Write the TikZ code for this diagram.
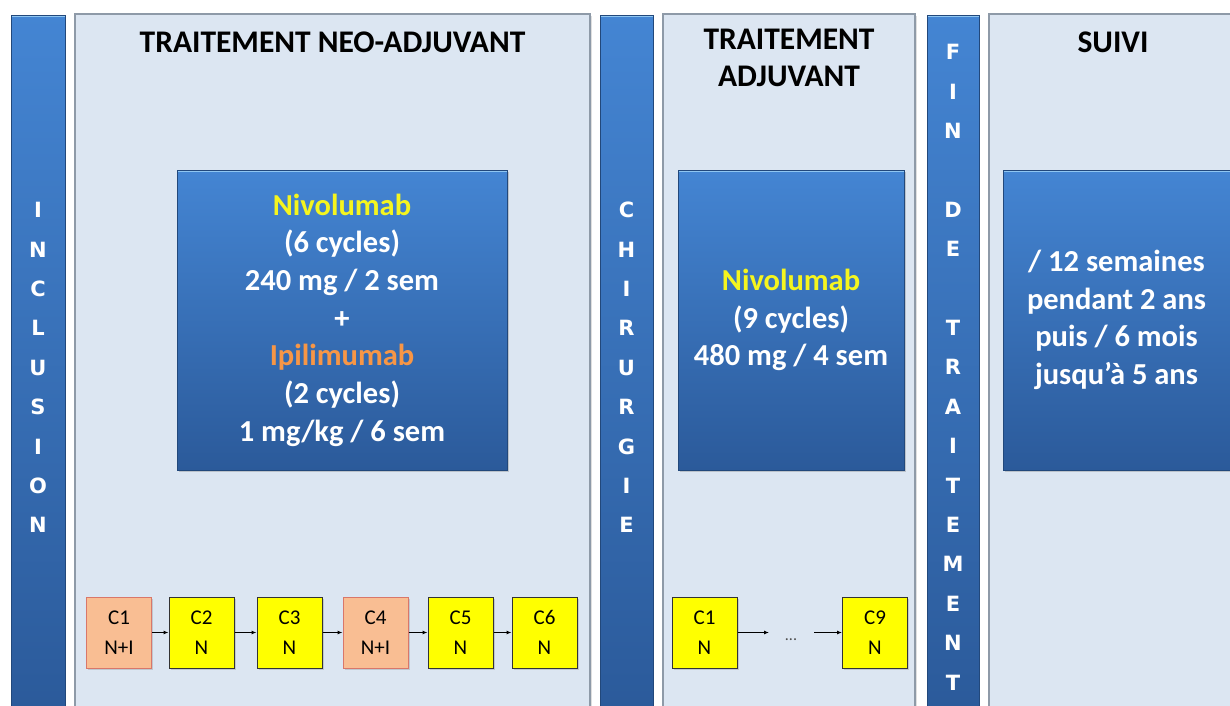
\documentclass[tikz,border=0pt]{standalone}
\usepackage{fontspec}
\setmainfont{Carlito}
\newfontfamily\barfont{DejaVu Sans}
\usetikzlibrary{arrows.meta,shadows}
\definecolor{panelfill}{HTML}{DCE6F2}
\definecolor{panelborder}{HTML}{8E9AA8}
\definecolor{bluetop}{HTML}{4485D3}
\definecolor{bluebot}{HTML}{2B5A9A}
\definecolor{blueedge}{HTML}{8FC6F2}
\definecolor{nivo}{HTML}{F5F51E}
\definecolor{ipi}{HTML}{F79646}
\definecolor{salmon}{HTML}{F9BE93}
\definecolor{salmonedge}{HTML}{D9776A}
\definecolor{yel}{HTML}{FFFF00}
\tikzset{
  panel/.style={draw=panelborder, line width=1.2pt, fill=panelfill,
    drop shadow={opacity=0.25, shadow xshift=1.5pt, shadow yshift=-1.5pt}},
  bluefill/.style={top color=bluetop, bottom color=bluebot, draw=bluebot!80!black, line width=0.6pt,
    path picture={\draw[blueedge, line width=3pt]
      (path picture bounding box.north west) -- (path picture bounding box.north east);}},
  bluebox/.style={bluefill, text=white, align=center,
    font=\bfseries\fontsize{30.5}{37.7}\selectfont,
    drop shadow={opacity=0.35, shadow xshift=2pt, shadow yshift=-2pt}},
  bar/.style={bluefill, minimum height=700pt},
  barletter/.style={text=white, font=\barfont\bfseries\fontsize{21}{21}\selectfont, inner sep=0pt},
  title/.style={font=\bfseries\fontsize{31.5}{37}\selectfont, align=center, text=black},
  cyc/.style={minimum width=65pt, minimum height=71pt, align=center, inner sep=0pt,
    font=\fontsize{21}{30}\selectfont, line width=1pt,
    drop shadow={opacity=0.3, shadow xshift=1.5pt, shadow yshift=-1.5pt}},
  cycNI/.style={cyc, fill=salmon, draw=salmonedge},
  cycN/.style={cyc, fill=yel, draw=black!80},
  arr/.style={-{Latex[length=5pt,width=4pt]}, line width=1pt, black}
}
\begin{document}
\begin{tikzpicture}[x=1pt,y=-1pt]
\useasboundingbox (0,0) rectangle (1230,705);
\clip (0,0) rectangle (1230,705);
\fill[white] (0,0) rectangle (1230,705);

% vertical bars
\node[bar, minimum width=54pt] (inclusion) at (38,365) {};
\node[bar, minimum width=53pt] (chirurgie) at (626.5,365) {};
\node[bar, minimum width=52pt] (fin) at (953,365) {};

\foreach \l [count=\i] in {I,N,C,L,U,S,I,O,N}
  \node[barletter] (inc\i) at (38,{210+39.4*(\i-1)}) {\l};
\foreach \l [count=\i] in {C,H,I,R,U,R,G,I,E}
  \node[barletter] (chir\i) at (626.5,{210+39.4*(\i-1)}) {\l};
\foreach \l/\k in {F/0,I/1,N/2,D/4,E/5,T/7,R/8,A/9,I/10,T/11,E/12,M/13,E/14,N/15,T/16}
  \node[barletter] (fin\k) at (953,{52+39.4*\k}) {\l};

% panels
\node[panel, minimum width=515pt, minimum height=701pt] (neo) at (332.5,364.5) {};
\node[panel, minimum width=252pt, minimum height=701pt] (adj) at (789,364.5) {};
\node[panel, minimum width=256pt, minimum height=701pt] (suivi) at (1117,364.5) {};

% titles
\node[title] (neotitle) at (332.5,42) {TRAITEMENT NEO-ADJUVANT};
\node[title] (adjtitle) at (789,58) {TRAITEMENT\\ADJUVANT};
\node[title] (suivititle) at (1113,42) {SUIVI};

% blue boxes
\node[bluebox, minimum width=330pt, minimum height=300pt] (neobox) at (342,320)
  {\textcolor{nivo}{Nivolumab}\\(6 cycles)\\240 mg / 2 sem\\+\\\textcolor{ipi}{Ipilimumab}\\(2 cycles)\\1 mg/kg / 6 sem};
\node[bluebox, minimum width=226pt, minimum height=300pt] (adjbox) at (791,320)
  {\textcolor{nivo}{Nivolumab}\\(9 cycles)\\480 mg / 4 sem};
\node[bluebox, minimum width=227pt, minimum height=300pt] (suivibox) at (1116.5,320)
  {/ 12 semaines\\pendant 2 ans\\puis / 6 mois\\jusqu’à 5 ans};

% neo-adjuvant cycles
\node[cycNI] (c1) at (119,632.5) {C1\\N+I};
\node[cycN] (c2) at (201.5,632.5) {C2\\N};
\node[cycN] (c3) at (289.5,632.5) {C3\\N};
\node[cycNI] (c4) at (375.5,632.5) {C4\\N+I};
\node[cycN] (c5) at (460.5,632.5) {C5\\N};
\node[cycN] (c6) at (544.5,632.5) {C6\\N};
\draw[arr] (c1) -- (c2);
\draw[arr] (c2) -- (c3);
\draw[arr] (c3) -- (c4);
\draw[arr] (c4) -- (c5);
\draw[arr] (c5) -- (c6);

% adjuvant cycles
\node[cycN] (a1) at (704.5,632.5) {C1\\N};
\node[cycN] (a9) at (875,632.5) {C9\\N};
\coordinate (dotsL) at (769,632.5);
\coordinate (dotsR) at (814,632.5);
\node[font=\fontsize{16}{16}\selectfont, text=black!70] (dots) at (791,640) {...};
\draw[arr] (a1) -- (dotsL);
\draw[arr] (dotsR) -- (a9);
\end{tikzpicture}
\end{document}
